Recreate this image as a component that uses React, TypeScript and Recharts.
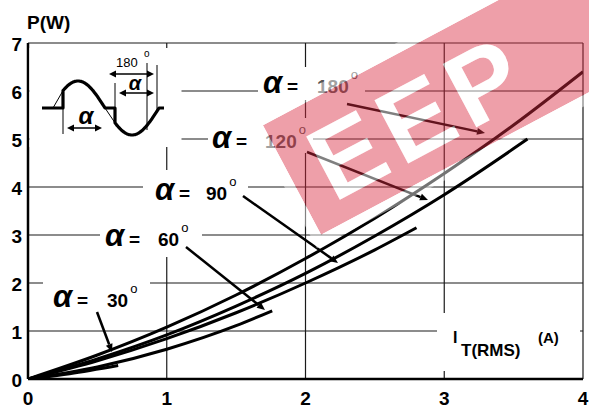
import React from 'react'
import { LineChart, Line, XAxis, YAxis, CartesianGrid } from 'recharts'

const W = 589
const H = 411
const FONT = '"Liberation Sans", Arial, Helvetica, sans-serif'

// Ticks
const xTicks = [0, 1, 2, 3, 4]
const yTicks = [0, 1, 2, 3, 4, 5, 6, 7]

// Curves: on-state power P(W) vs I_T(RMS)(A), per conduction angle
const i30 = [0, 0.3, 0.65]
const p30 = [0, 0.11, 0.28]
const i60 = [0, 0.5, 1, 1.5, 1.76]
const p60 = [0, 0.25, 0.62, 1.11, 1.42]
const i90 = [0, 0.5, 1, 1.5, 2, 2.5, 2.8]
const p90 = [0, 0.38, 0.84, 1.38, 2.0, 2.69, 3.15]
const i120 = [0, 0.5, 1, 1.5, 2, 2.5, 3, 3.5, 3.6]
const p120 = [0, 0.42, 0.92, 1.52, 2.2, 2.98, 3.84, 4.8, 5.0]
const i180 = [0, 0.5, 1, 1.5, 2, 2.5, 3, 3.5, 4]
const p180 = [0, 0.5, 1.08, 1.75, 2.51, 3.35, 4.28, 5.29, 6.4]

const angles = ['30', '60', '90', '120', '180']
const currents = [i30, i60, i90, i120, i180]
const powers = [p30, p60, p90, p120, p180]

const series = angles.map((a, k) => ({
  name: a,
  data: currents[k].map((x, j) => ({ i: x, p: powers[k][j] })),
}))

// label placement (pixels)
const labels = [
  { angle: '180', ax: 263, base: 93, numX: 317, color: '#555', box: [258, 67, 107, 33], from: [347, 104], to: [485, 133] },
  { angle: '120', ax: 212, base: 148, numX: 265, color: '#555', box: [208, 118, 105, 35], from: [307, 152], to: [428, 200] },
  { angle: '90', ax: 155, base: 200, numX: 206, color: '#000', box: [143, 170, 105, 41], from: [243, 196], to: [338, 263] },
  { angle: '60', ax: 105, base: 246, numX: 158, color: '#000', box: [100, 211, 102, 46], from: [186, 247], to: [265, 310] },
  { angle: '30', ax: 53, base: 307, numX: 107, color: '#000', box: [43, 272, 107, 30], from: [97, 312], to: [112, 352] },
]

const XTick = (props: any) => (
  <text x={props.x} y={405} textAnchor="middle" fontFamily={FONT} fontWeight="bold" fontSize={19} fill="#000">
    {props.payload.value}
  </text>
)

const YTick = (props: any) => (
  <text x={22} y={props.y + 8} textAnchor="end" fontFamily={FONT} fontWeight="bold" fontSize={19} fill="#000">
    {props.payload.value}
  </text>
)

function Arrow({ from, to, w = 2.5 }: { from: number[]; to: number[]; w?: number }) {
  const dx = to[0] - from[0]
  const dy = to[1] - from[1]
  const len = Math.hypot(dx, dy)
  const ux = dx / len
  const uy = dy / len
  const L = 8
  const hw = 3.5
  const bx = to[0] - ux * L
  const by = to[1] - uy * L
  return (
    <g>
      <line x1={from[0]} y1={from[1]} x2={bx} y2={by} stroke="#000" strokeWidth={w} />
      <polygon
        points={`${to[0]},${to[1]} ${bx - uy * hw},${by + ux * hw} ${bx + uy * hw},${by - ux * hw}`}
        fill="#000"
      />
    </g>
  )
}

function DArrow({ x1, x2, y }: { x1: number; x2: number; y: number }) {
  return (
    <g>
      <line x1={x1 + 5} y1={y} x2={x2 - 5} y2={y} stroke="#000" strokeWidth={1.5} />
      <polygon points={`${x1},${y} ${x1 + 7},${y - 3.5} ${x1 + 7},${y + 3.5}`} fill="#000" />
      <polygon points={`${x2},${y} ${x2 - 7},${y - 3.5} ${x2 - 7},${y + 3.5}`} fill="#000" />
    </g>
  )
}

// small gate-triggered sine sketch in the top-left corner
function Inset() {
  const y0 = 108
  const amp = 27
  const x0 = 51
  const per = 108
  const s = (x: number) => y0 - amp * Math.sin((2 * Math.PI * (x - x0)) / per)
  const pts = (a: number, b: number) => {
    const out: string[] = []
    for (let x = a; x <= b + 0.01; x += 1) out.push(`${x},${s(x).toFixed(1)}`)
    return out.join(' L')
  }
  const thick = `M42,${y0} L63,${y0} L63,${s(63).toFixed(1)} L${pts(63, 105)} L115,${y0} L115,${s(115).toFixed(1)} L${pts(115, 159)} L164,${y0}`
  return (
    <g>
      <path d={thick} fill="none" stroke="#000" strokeWidth={3.2} strokeLinejoin="round" />
      <line x1={53} y1={y0} x2={63} y2={s(63)} stroke="#000" strokeWidth={1} />
      <line x1={105} y1={y0} x2={115} y2={s(115)} stroke="#000" strokeWidth={1} />
      <line x1={63} y1={90} x2={63} y2={134} stroke="#000" strokeWidth={1} />
      <line x1={115} y1={83} x2={115} y2={123} stroke="#000" strokeWidth={1} />
      <line x1={147} y1={63} x2={147} y2={130} stroke="#000" strokeWidth={1} />
      <line x1={157} y1={65} x2={157} y2={110} stroke="#000" strokeWidth={1} />
      <DArrow x1={67} x2={102} y={128} />
      <text x={86} y={124} textAnchor="middle" fontFamily={FONT} fontStyle="italic" fontWeight="bold" fontSize={24}>α</text>
      <DArrow x1={109} x2={154} y={74} />
      <text x={116} y={67} fontFamily={FONT} fontSize={13}>180</text>
      <text x={144} y={57} fontFamily={FONT} fontSize={10}>o</text>
      <DArrow x1={119} x2={154} y={93} />
      <text x={135} y={90} textAnchor="middle" fontFamily={FONT} fontStyle="italic" fontWeight="bold" fontSize={20}>α</text>
    </g>
  )
}

function Watermark() {
  const tr = 'translate(292 180) rotate(-28)'
  return (
    <g pointerEvents="none">
      <defs>
        <mask id="wmMask" maskUnits="userSpaceOnUse" x={0} y={0} width={W} height={H}>
          <g transform={tr}>
            <rect x={0} y={-62} width={440} height={124} fill="#fff" />
            <text x={26} y={40} fontFamily={FONT} fontWeight="bold" fontSize={104} letterSpacing={8} fill="#000">EEP</text>
          </g>
        </mask>
      </defs>
      <g mask="url(#wmMask)">
        <g transform={tr}>
          <rect x={0} y={-62} width={440} height={124} fill="#d92b41" opacity={0.45} />
        </g>
      </g>
      <g transform={tr}>
        <text x={26} y={40} fontFamily={FONT} fontWeight="bold" fontSize={104} letterSpacing={8} fill="#fff" opacity={0.5}>EEP</text>
        <rect x={-5} y={-67} width={450} height={134} fill="none" stroke="#fff" strokeWidth={10} opacity={0.45} />
      </g>
    </g>
  )
}

export default function App() {
  return (
    <div style={{ position: 'absolute', left: 0, top: 0, width: W, height: H, background: '#fff' }}>
      <LineChart width={W} height={H} margin={{ top: 43, right: 6, bottom: 0, left: 0 }}>
        <CartesianGrid stroke="#1a1a1a" strokeWidth={1.2} />
        <XAxis
          type="number"
          dataKey="i"
          domain={[0, 4]}
          ticks={xTicks}
          height={32}
          tickLine={false}
          axisLine={{ stroke: '#000', strokeWidth: 2.5 }}
          tick={XTick}
          allowDataOverflow
        />
        <YAxis
          type="number"
          domain={[0, 7]}
          ticks={yTicks}
          width={28}
          tickLine={false}
          axisLine={{ stroke: '#000', strokeWidth: 2.5 }}
          tick={YTick}
          allowDataOverflow
        />
        {series.map((s) => (
          <Line
            key={s.name}
            data={s.data}
            dataKey="p"
            type="monotone"
            stroke="#000"
            strokeWidth={3}
            dot={false}
            activeDot={false}
            isAnimationActive={false}
          />
        ))}
      </LineChart>
      <svg width={W} height={H} style={{ position: 'absolute', left: 0, top: 0, pointerEvents: 'none' }}>
        {/* white patches behind the annotations */}
        <rect x={29.5} y={48} width={152} height={99} fill="#fff" />
        <rect x={437} y={313} width={143} height={58} fill="#fff" />
        {labels.map((l) => (
          <rect key={'b' + l.angle} x={l.box[0]} y={l.box[1]} width={l.box[2]} height={l.box[3]} fill="#fff" />
        ))}
        <Inset />
        {labels.map((l) => (
          <g key={l.angle}>
            <text x={l.ax} y={l.base} fontFamily={FONT} fontStyle="italic" fontWeight="bold" fontSize={31} fill="#000">α</text>
            <text x={l.ax + 24} y={l.base} fontFamily={FONT} fontWeight="bold" fontSize={19} fill="#000">=</text>
            <text x={l.numX} y={l.base} fontFamily={FONT} fontWeight="bold" fontSize={19} fill={l.color}>{l.angle}</text>
            <text x={l.numX + l.angle.length * 10.6 + 2} y={l.base - 14} fontFamily={FONT} fontSize={13} fill={l.color}>o</text>
            <Arrow from={l.from} to={l.to} />
          </g>
        ))}
        <text x={27} y={29} fontFamily={FONT} fontWeight="bold" fontSize={19}>P(W)</text>
        <text x={453} y={343} fontFamily={FONT} fontWeight="bold" fontSize={16}>I</text>
        <text x={461} y={356} fontFamily={FONT} fontWeight="bold" fontSize={17}>T(RMS)</text>
        <text x={538} y={343} fontFamily={FONT} fontWeight="bold" fontSize={15}>(A)</text>
        <Watermark />
      </svg>
    </div>
  )
}
